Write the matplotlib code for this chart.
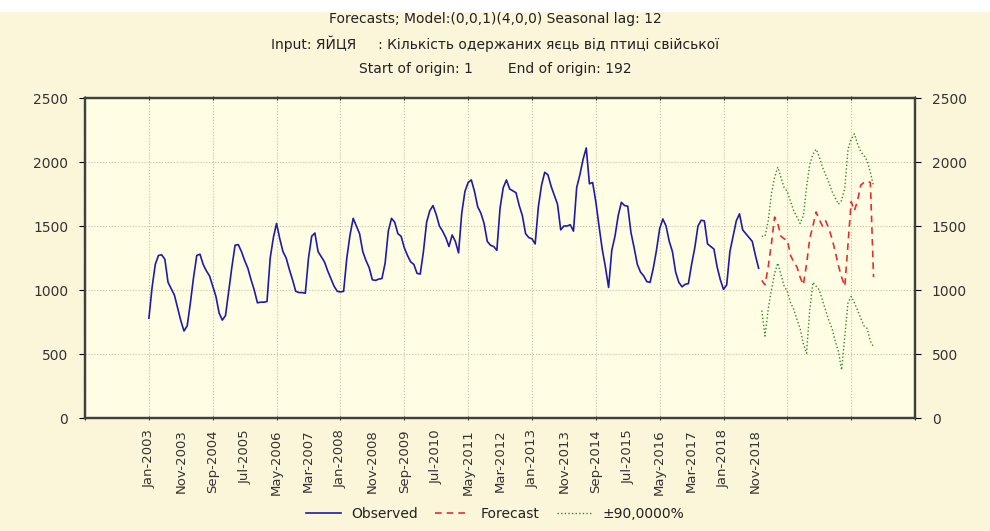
import numpy as np
import matplotlib
matplotlib.use("Agg")
import matplotlib.pyplot as plt
from matplotlib.patches import Rectangle

plt.rcParams["font.family"] = ["DejaVu Sans"]

# observed series, case 1 = Jan-2003 ... case 192 = Dec-2018
observed = [
    780, 1020, 1200, 1270, 1275, 1240, 1060, 1010, 960, 860, 760, 680,
    720, 900, 1100, 1270, 1280, 1200, 1150, 1110, 1030, 950, 820, 765,
    800, 990, 1180, 1350, 1355, 1300, 1230, 1170, 1080, 1000, 900, 905,
    905, 910, 1250, 1410, 1520, 1400, 1300, 1250, 1160, 1080, 990, 980,
    980, 975, 1250, 1420, 1445, 1300, 1260, 1220, 1150, 1090, 1030, 990,
    985, 990, 1250, 1430, 1560, 1500, 1440, 1300, 1230, 1175, 1080, 1075,
    1085, 1090, 1210, 1460, 1560, 1530, 1440, 1420, 1330, 1270, 1220, 1200,
    1130, 1125, 1300, 1530, 1620, 1660, 1590, 1500, 1460, 1410, 1340, 1430,
    1380, 1290, 1600, 1770, 1840, 1860, 1770, 1650, 1600, 1520, 1380, 1350,
    1340, 1310, 1640, 1800, 1860, 1790, 1775, 1760, 1660, 1580, 1440, 1410,
    1400, 1360, 1650, 1820, 1920, 1900, 1810, 1740, 1670, 1470, 1500, 1500,
    1510, 1460, 1800, 1900, 2020, 2110, 1830, 1840, 1690, 1500, 1320, 1180,
    1020, 1310, 1420, 1580, 1685, 1660, 1655, 1450, 1330, 1200, 1140, 1110,
    1065, 1060, 1170, 1310, 1480, 1555, 1500, 1380, 1300, 1140, 1060, 1025,
    1045, 1050, 1200, 1330, 1500, 1545, 1540, 1360, 1340, 1320, 1180, 1080,
    1005, 1040, 1300, 1420, 1540, 1595, 1470, 1440, 1410, 1380, 1270, 1170,
]

# forecast, cases 193 ... 228
forecast = [
    1075, 1040, 1180, 1360, 1570, 1520, 1420, 1400, 1390, 1270, 1220, 1180,
    1100, 1040, 1200, 1400, 1500, 1610, 1550, 1500, 1540, 1480, 1400, 1300,
    1190, 1100, 1030, 1360, 1690, 1620, 1700, 1820, 1840, 1850, 1840, 1100,
]
upper = [
    1420, 1420, 1540, 1750, 1880, 1960, 1880, 1800, 1770, 1690, 1620, 1570,
    1520, 1580, 1800, 1980, 2060, 2100, 2040, 1960, 1900, 1840, 1770, 1720,
    1670, 1700, 1800, 2100, 2180, 2220, 2140, 2080, 2050, 2010, 1920, 1810,
]
lower = [
    840, 640, 850, 1000, 1130, 1210, 1120, 1030, 990, 900, 850, 770,
    700, 580, 505, 840, 1060, 1030, 1000, 920, 840, 760, 700, 600,
    520, 375, 640, 900, 950, 900, 840, 780, 720, 700, 600, 555,
]

months = ["Jan", "Feb", "Mar", "Apr", "May", "Jun",
          "Jul", "Aug", "Sep", "Oct", "Nov", "Dec"]
label_cases = list(range(1, 192, 10))
tick_labels = [f"{months[(c - 1) % 12]}-{2003 + (c - 1) // 12}" for c in label_cases]

obs_x = np.arange(1, len(observed) + 1)
fc_x = np.arange(len(observed) + 1, len(observed) + 1 + len(forecast))

fig = plt.figure(figsize=(9.9, 5.31), dpi=100, facecolor="#fbf6da")
fig.patches.append(Rectangle((0, 0.98), 1, 0.02, transform=fig.transFigure,
                             color="white", zorder=0))
ax = fig.add_axes([0.0859, 0.2128, 0.8384, 0.6026])
ax.set_facecolor("#fffde4")

ax.plot(obs_x, observed, color="#1c1ca8", lw=1.2, label="Observed")
ax.plot(fc_x, forecast, color="#e03030", lw=1.2, ls=(0, (4, 3)), label="Forecast")
ax.plot(fc_x, upper, color="#2e8b2e", lw=1.0, ls=(0, (1, 1.6)), label="±90,0000%")
ax.plot(fc_x, lower, color="#2e8b2e", lw=1.0, ls=(0, (1, 1.6)))

ax.set_xlim(-19, 241)
ax.set_ylim(0, 2500)
ax.set_yticks(range(0, 2501, 500))
ax.xaxis.remove_overlapping_locs = False
ax.set_xticks(label_cases)
ax.set_xticklabels(tick_labels, rotation=90, fontsize=9.5, color="#333333")
ax.set_xticks(range(-19, 242, 20), minor=True)
ax.tick_params(axis="x", which="major", length=0, pad=8)
ax.tick_params(axis="x", which="minor", length=3, top=True, direction="inout")
ax.tick_params(axis="y", length=4, labelsize=10, labelcolor="#333333", pad=8)
ax.grid(which="minor", axis="x", color="#c8c0a0", ls=":", lw=0.8)
ax.grid(which="major", axis="y", color="#c8c0a0", ls=":", lw=0.8)
for s in ax.spines.values():
    s.set_color("#404040")
    s.set_linewidth(1.6)

ax2 = ax.twinx()
ax2.set_ylim(0, 2500)
ax2.set_yticks(range(0, 2501, 500))
ax2.tick_params(axis="y", length=4, labelsize=10, labelcolor="#333333", pad=8)
for s in ax2.spines.values():
    s.set_color("#404040")
    s.set_linewidth(1.6)

title_kw = dict(ha="center", va="center", fontsize=10, color="#222222")
fig.text(0.5, 1 - 19 / 531, "Forecasts; Model:(0,0,1)(4,0,0) Seasonal lag: 12", **title_kw)
fig.text(0.5, 1 - 44 / 531, "Input: ЯЙЦЯ     : Кількість одержаних яєць від птиці свійської", **title_kw)
fig.text(0.5, 1 - 69 / 531, "Start of origin: 1        End of origin: 192", **title_kw)

fig.legend(loc="center", bbox_to_anchor=(0.5, 1 - 514 / 531), ncol=3,
           frameon=False, fontsize=10, handlelength=2.5, columnspacing=1.2,
           labelcolor="#222222")

fig.savefig("out.png", dpi=100, facecolor=fig.get_facecolor())
